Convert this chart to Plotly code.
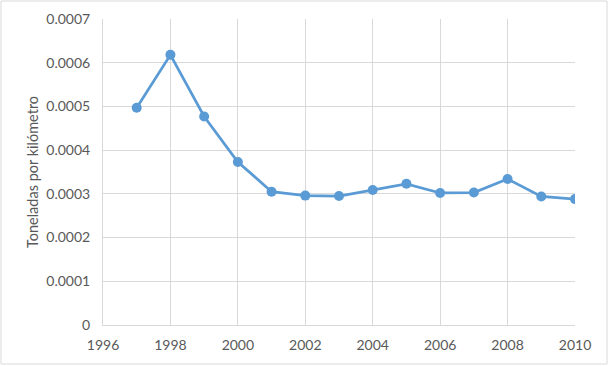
import plotly.graph_objects as go

years = [1997, 1998, 1999, 2000, 2001, 2002, 2003, 2004, 2005, 2006, 2007, 2008, 2009, 2010]
values = [0.000497, 0.000618, 0.000477, 0.000373, 0.000305, 0.000296, 0.000295,
          0.000309, 0.000323, 0.000302, 0.000303, 0.000334, 0.000294, 0.000288]
y_title = "Toneladas por kilómetro"

W, H = 609, 366
ml, mr, mt, mb = 103, 34, 19, 41
pw, ph = W - ml - mr, H - mt - mb

fig = go.Figure(go.Scatter(
    x=years, y=values, mode="lines+markers",
    line=dict(color="#5B9BD5", width=2.75),
    marker=dict(color="#5B9BD5", size=10),
    showlegend=False,
))

font_family = "Lato, Open Sans, sans-serif"
fig.update_layout(
    width=W, height=H,
    margin=dict(l=ml, r=mr, t=mt, b=mb, autoexpand=False),
    paper_bgcolor="white", plot_bgcolor="white",
    font=dict(family=font_family, size=14, color="#595959"),
    xaxis=dict(range=[1996, 2010], tick0=1996, dtick=2, showgrid=True,
               gridcolor="#D9D9D9", gridwidth=1, zeroline=False,
               showline=True, linecolor="#D9D9D9", linewidth=1,
               ticks="", tickformat="d", ticklabelstandoff=7),
    yaxis=dict(range=[0, 0.0007], tick0=0, dtick=0.0001, showgrid=True,
               gridcolor="#D9D9D9", gridwidth=1, zeroline=False,
               showline=True, linecolor="#D9D9D9", linewidth=1,
               ticks="", tickformat=".4~f", ticklabelstandoff=9,
               title=dict(text=y_title, font=dict(size=14.5, color="#595959"), standoff=4)),
    shapes=[dict(type="rect", xref="paper", yref="paper",
                 x0=-(ml - 1) / pw, x1=1 + (mr - 2) / pw,
                 y0=-(mb - 2) / ph, y1=1 + (mt - 1) / ph,
                 line=dict(color="#D9D9D9", width=1), layer="below")],
)

fig.write_html("out.html", config={"displayModeBar": False},
               post_script="document.body.style.margin='0px';")
